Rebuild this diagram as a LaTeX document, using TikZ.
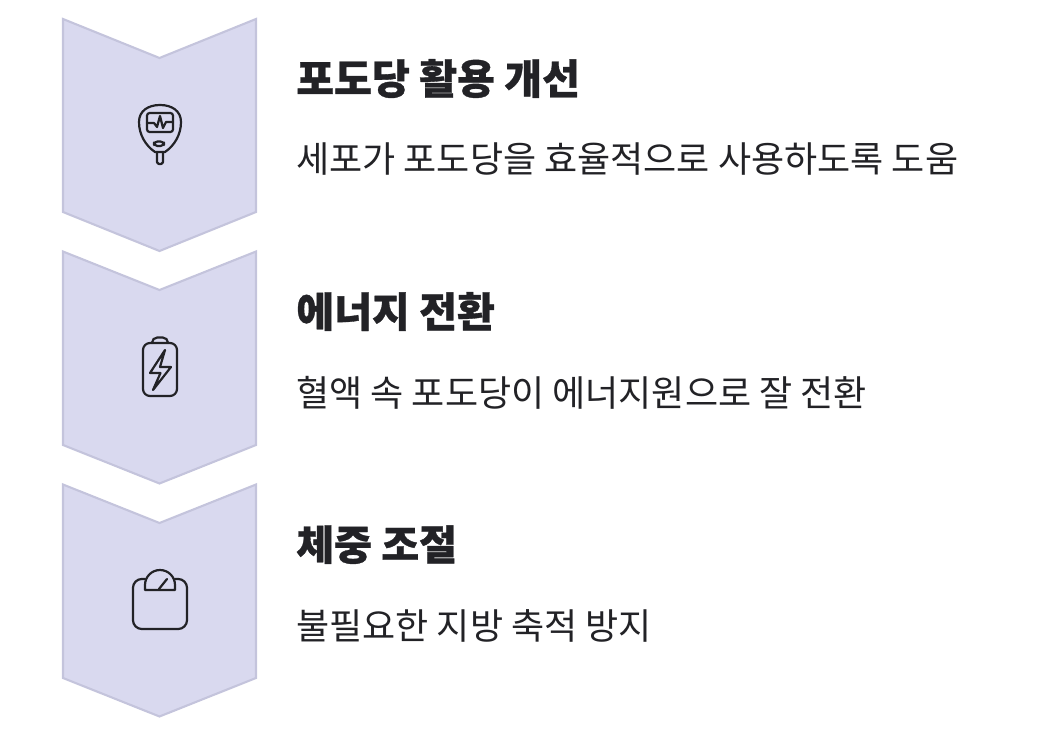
\documentclass[tikz,border=0pt]{standalone}
\usepackage{fontspec}
\setmainfont{Noto Sans CJK KR}
\newfontfamily\headfont[FakeBold=0.8]{Noto Sans CJK KR Black}
\usetikzlibrary{positioning}
\definecolor{chevfill}{HTML}{D9D9EF}
\definecolor{chevline}{HTML}{C4C4DC}
\definecolor{inkline}{HTML}{222226}
\tikzset{
	chevron/.style={fill=chevfill, draw=chevline, line width=1.2pt, line join=miter},
	icon/.style={draw=inkline, line width=1.25pt, line join=round, line cap=round},
	head/.style={anchor=base west, inner sep=0pt, text=inkline, font=\headfont\fontsize{23.4}{28}\selectfont},
	body/.style={anchor=base west, inner sep=0pt, text=inkline, font=\fontsize{20.5}{24}\selectfont}
}
\begin{document}
\begin{tikzpicture}[x=0.02cm, y=-0.02cm]
	\useasboundingbox (0,0) rectangle (1044,746);

	\draw [chevron] (63,19) -- (159.5,58) -- (256,19) -- (256,212) -- (159.5,251) -- (63,212) -- cycle;
	\draw [chevron] (63,251.5) -- (159.5,290) -- (256,251.5) -- (256,445) -- (159.5,483.5) -- (63,445) -- cycle;
	\draw [chevron] (63,484.5) -- (159.5,523) -- (256,484.5) -- (256,678) -- (159.5,716.5) -- (63,678) -- cycle;

	\node [head] (head1) at (296,94) {포도당 활용 개선};
	\node [body] (body1) at (296,173) {세포가 포도당을 효율적으로 사용하도록 도움};
	\node [head] (head2) at (296,327) {에너지 전환};
	\node [body] (body2) at (296,406) {혈액 속 포도당이 에너지원으로 잘 전환};
	\node [head] (head3) at (296,560) {체중 조절};
	\node [body] (body3) at (296,639) {불필요한 지방 축적 방지};

	% glucose meter
	\draw [icon] (155,152) .. controls (146,146) and (139,135) .. (139,122)
		.. controls (139,111) and (148,105) .. (160,105)
		.. controls (172,105) and (181,111) .. (181,122)
		.. controls (181,135) and (174,146) .. (165,152) -- cycle;
	\draw [icon, rounded corners=1.5] (147,113) rectangle (173,132);
	\draw [icon] (147,123) -- (154,123) -- (157,127) -- (160,116) -- (163,128) -- (166,122) -- (173,122);
	\draw [icon, rounded corners=2] (154,141.5) rectangle (164,146);
	\draw [icon, rounded corners=1] (157,152) -- (157,164) -- (163,164) -- (163,152);

	% battery
	\draw [icon, rounded corners=3] (152,343) -- (152,337.5) -- (168,337.5) -- (168,343);
	\draw [icon, rounded corners=4] (143,343) rectangle (177,396);
	\draw [icon] (165,350) -- (150,373) -- (160.5,373) -- (153,390) -- (171,367) -- (160,367) -- cycle;

	% scale
	\draw [icon, rounded corners=5] (145,579) -- (133,579) -- (133,629) -- (187,629) -- (187,579) -- (175,579);
	\draw [icon] (145,590) -- (145,585) arc [start angle=180, end angle=360, radius=15] -- (175,590) -- cycle;
	\draw [icon] (159,589) -- (167,579);
\end{tikzpicture}
\end{document}
